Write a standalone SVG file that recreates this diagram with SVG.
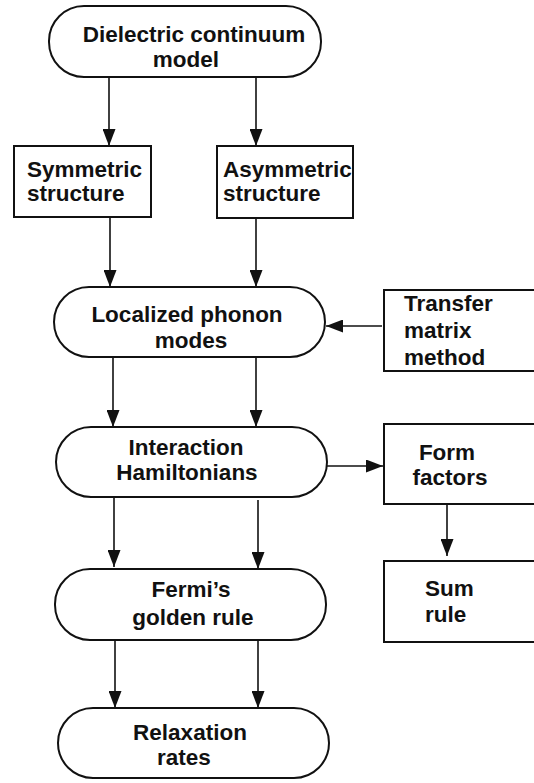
<svg xmlns="http://www.w3.org/2000/svg" width="534" height="783" viewBox="0 0 534 783">
<style>
.n{fill:#fff;stroke:#111;stroke-width:2}
.t{font-family:"Liberation Sans",Arial,sans-serif;font-weight:bold;font-size:22.5px;fill:#111}
.m{text-anchor:middle}
.c{stroke:#111;stroke-width:1.6;fill:none;marker-end:url(#ah)}
</style>
<defs>
<marker id="ah" viewBox="0 0 17 13" refX="17" refY="6.5" markerWidth="17" markerHeight="13" markerUnits="userSpaceOnUse" orient="auto">
<path d="M0,0 L17,6.5 L0,13 Z" fill="#111"/>
</marker>
</defs>
<rect width="534" height="783" fill="#fff"/>
<g id="connectors">
<line class="c" x1="109" y1="78" x2="109" y2="146"/>
<line class="c" x1="256" y1="78" x2="256" y2="146"/>
<line class="c" x1="110" y1="218" x2="110" y2="287"/>
<line class="c" x1="256" y1="218" x2="256" y2="287"/>
<line class="c" x1="382" y1="326" x2="326" y2="326"/>
<line class="c" x1="113" y1="358" x2="113" y2="427"/>
<line class="c" x1="256" y1="358" x2="256" y2="427"/>
<line class="c" x1="327" y1="466" x2="383" y2="466"/>
<line class="c" x1="447" y1="505" x2="447" y2="556"/>
<line class="c" x1="114" y1="497" x2="114" y2="567"/>
<line class="c" x1="258" y1="500" x2="258" y2="569"/>
<line class="c" x1="115" y1="641" x2="115" y2="708"/>
<line class="c" x1="258" y1="641" x2="258" y2="708"/>
</g>
<g id="dielectric">
<rect class="n" x="49" y="6" width="272" height="71" rx="35" ry="35"/>
<text class="t m" x="194" y="42">Dielectric continuum</text>
<text class="t m" x="186" y="67">model</text>
</g>
<g id="symmetric">
<rect class="n" x="14" y="146" width="137" height="71"/>
<text class="t" x="27" y="177">Symmetric</text>
<text class="t" x="27" y="201">structure</text>
</g>
<g id="asymmetric">
<rect class="n" x="217" y="146" width="136" height="72"/>
<text class="t" x="223" y="177">Asymmetric</text>
<text class="t" x="223" y="201">structure</text>
</g>
<g id="localized">
<rect class="n" x="54" y="287" width="271" height="70" rx="35" ry="35"/>
<text class="t m" x="187" y="322">Localized phonon</text>
<text class="t m" x="191" y="348">modes</text>
</g>
<g id="transfer">
<rect class="n" x="384" y="290" width="156" height="81"/>
<text class="t" x="404" y="311">Transfer</text>
<text class="t" x="404" y="338">matrix</text>
<text class="t" x="404" y="365">method</text>
</g>
<g id="interaction">
<rect class="n" x="56" y="427" width="271" height="70" rx="35" ry="35"/>
<text class="t m" x="186" y="455">Interaction</text>
<text class="t m" x="187" y="480">Hamiltonians</text>
</g>
<g id="form">
<rect class="n" x="384" y="424" width="156" height="80"/>
<text class="t m" x="447" y="460">Form</text>
<text class="t m" x="450" y="485">factors</text>
</g>
<g id="sum">
<rect class="n" x="384" y="561" width="156" height="81"/>
<text class="t" x="425" y="596">Sum</text>
<text class="t" x="425" y="622">rule</text>
</g>
<g id="fermi">
<rect class="n" x="55" y="569" width="271" height="71" rx="35" ry="35"/>
<text class="t m" x="191" y="597">Fermi’s</text>
<text class="t m" x="193" y="625">golden rule</text>
</g>
<g id="relaxation">
<rect class="n" x="58" y="708" width="271" height="70" rx="35" ry="35"/>
<text class="t m" x="190" y="740">Relaxation</text>
<text class="t m" x="184" y="765">rates</text>
</g>
</svg>
